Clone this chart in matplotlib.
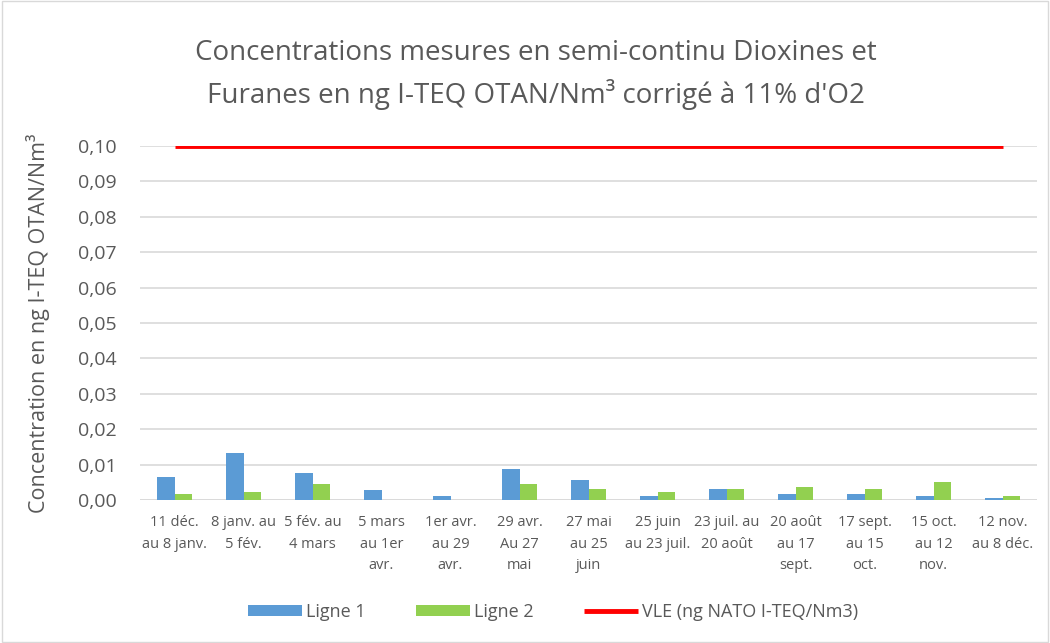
import matplotlib
matplotlib.use("Agg")
import matplotlib.pyplot as plt
import numpy as np
from matplotlib.patches import Rectangle

plt.rcParams['font.family'] = ['Open Sans', 'DejaVu Sans']

categories = ["11 déc.\nau 8 janv.", "8 janv. au\n5 fév.", "5 fév. au\n4 mars",
              "5 mars\nau 1er\navr.", "1er avr.\nau 29\navr.", "29 avr.\nAu 27\nmai",
              "27 mai\nau 25\njuin", "25 juin\nau 23 juil.", "23 juil. au\n20 août",
              "20 août\nau 17\nsept.", "17 sept.\nau 15\noct.", "15 oct.\nau 12\nnov.",
              "12 nov.\nau 8 déc."]
ligne1 = [0.0066, 0.0133, 0.0075, 0.0027, 0.0010, 0.0088, 0.0056, 0.0010, 0.0031,
          0.0018, 0.0018, 0.0010, 0.0005]
ligne2 = [0.0018, 0.0022, 0.0045, 0.0, 0.0, 0.0045, 0.0031, 0.0024, 0.0031,
          0.0038, 0.0031, 0.0052, 0.0010]
vle = [0.10] * len(categories)
yticks = [0.00, 0.01, 0.02, 0.03, 0.04, 0.05, 0.06, 0.07, 0.08, 0.09, 0.10]

blue = "#5B9BD5"
green = "#92D050"
red = "#FF0000"
txt = "#595959"
grid = "#D9D9D9"

fig = plt.figure(figsize=(10.5, 6.43), dpi=100)
fig.patches.append(Rectangle((0.002, 0.002), 0.996, 0.996, transform=fig.transFigure,
                             fill=False, edgecolor="#D9D9D9", linewidth=1))
ax = fig.add_axes([140/1050, 1-500/643, (1037-140)/1050, (500-146)/643])

x = np.arange(len(categories))
w = 0.25
h1 = ax.bar(x - w/2, ligne1, width=w, color=blue, label="Ligne 1", zorder=3)
h2 = ax.bar(x + w/2, ligne2, width=w, color=green, label="Ligne 2", zorder=3)
h3, = ax.plot(x, vle, color=red, linewidth=3.5, label="VLE (ng NATO I-TEQ/Nm3)", zorder=4,
              solid_capstyle='butt')

ax.set_xlim(-0.5, len(categories) - 0.5)
ax.set_ylim(0, 0.10)
ax.set_yticks(yticks)
ax.set_yticklabels([f"{v:.2f}".replace(".", ",") for v in yticks], color=txt, fontsize=14)
ax.set_xticks(x)
ax.set_xticklabels(categories, color=txt, fontsize=10.5, linespacing=1.6)
ax.tick_params(axis='both', length=0)
ax.tick_params(axis='y', pad=17)
ax.tick_params(axis='x', pad=11)
ax.grid(axis='y', color=grid, linewidth=1.2, zorder=0)
for s in ax.spines.values():
    s.set_visible(False)
ax.axhline(0, color=grid, linewidth=1.2, zorder=2)

fig.text(0.51, 1-53/643, "Concentrations mesures en semi-continu Dioxines et",
         ha='center', va='center', fontsize=20, color=txt)
fig.text(0.51, 1-94/643, "Furanes en ng I-TEQ OTAN/Nm³ corrigé à 11% d'O2",
         ha='center', va='center', fontsize=20, color=txt)
fig.text(38/1050, 1-323/643, "Concentration en ng I-TEQ OTAN/Nm³", rotation=90,
         ha='center', va='center', fontsize=15.5, color=txt)

leg = fig.legend([h1, h2, h3], ["Ligne 1", "Ligne 2", "VLE (ng NATO I-TEQ/Nm3)"],
                 loc='center', bbox_to_anchor=(553/1050, 1-612/643), ncol=3, frameon=False,
                 fontsize=13, handlelength=3.0, handleheight=0.6, columnspacing=2.8,
                 handletextpad=0.2)
for t in leg.get_texts():
    t.set_color(txt)

fig.savefig("out.png", dpi=100)
